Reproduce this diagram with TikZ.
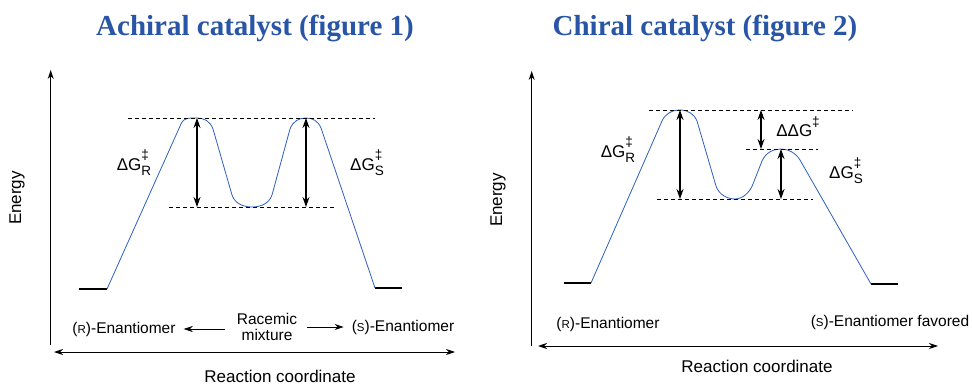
\documentclass[tikz,border=0pt]{standalone}
\usepackage{fontspec}
\setmainfont{Liberation Sans}
\newfontfamily\ttlfont{Liberation Serif}
\usetikzlibrary{arrows.meta}
\definecolor{ttlblue}{RGB}{40,85,165}
\definecolor{crvblue}{RGB}{45,95,190}
\newcommand{\sm}[1]{{\fontsize{11.5}{12}\selectfont #1}}
\newcommand{\smd}[1]{{\fontsize{13.5}{14}\selectfont #1}}
\newcommand{\dgs}[1]{ΔG\makebox[0pt][l]{\raisebox{0.6em}{\smd{‡}}}\raisebox{-0.34em}{\smd{#1}}}
\tikzset{
  titlelab/.style={font=\ttlfont\bfseries\fontsize{29}{32}\selectfont, text=ttlblue, inner sep=0pt},
  lab/.style={font=\fontsize{15.5}{16}\selectfont, inner sep=2pt},
  dglab/.style={font=\fontsize{17}{18}\selectfont, inner sep=1pt},
  axislab/.style={font=\fontsize{17}{18}\selectfont, inner sep=0pt},
  curve/.style={draw=crvblue, line width=0.8pt},
  ground/.style={line width=2.6pt},
  axis/.style={-{Stealth[length=9pt, width=6pt]}, line width=0.9pt},
  axis2/.style={{Stealth[length=9pt, width=6pt]}-{Stealth[length=9pt, width=6pt]}, line width=0.9pt},
  gap/.style={{Stealth[length=10pt, width=7pt]}-{Stealth[length=10pt, width=7pt]}, line width=1.1pt},
  dline/.style={dash pattern=on 4pt off 3pt, line width=0.6pt},
  mix/.style={-{Stealth[length=9pt, width=6pt]}, line width=0.7pt},
}
\begin{document}
\begin{tikzpicture}[x=1pt, y=-1pt]
  \useasboundingbox (0,0) rectangle (972,385);
  % titles
  \node[titlelab] (titleA) at (255,28) {Achiral catalyst (figure 1)};
  \node[titlelab] (titleB) at (705,28) {Chiral catalyst (figure 2)};

  % ---- figure 1 ----
  \coordinate (yA0) at (50.7,345); \coordinate (yA1) at (50.7,70);
  \coordinate (xA0) at (54,352); \coordinate (xA1) at (455,352);
  \draw[axis] (yA0) -- (yA1);
  \draw[axis2] (xA0) -- (xA1);
  \node[axislab, rotate=90] (energyA) at (17,198) {Energy};
  \node[axislab] (rcA) at (280,376) {Reaction coordinate};
  \coordinate (pRA) at (197,118); \coordinate (pSA) at (306,118);
  \coordinate (vA) at (252,207);
  \draw[ground] (79,289) -- (107,289);
  \draw[ground] (375,288) -- (402,288);
  \draw[curve] (107,289) -- (181,124) .. controls (184,117) and (190,118) .. (pRA)
    .. controls (204,118) and (210,121) .. (213,129) -- (232,195)
    .. controls (235,204) and (244,207) .. (vA)
    .. controls (260,207) and (269,204) .. (272,195) -- (290,129)
    .. controls (293,121) and (299,118) .. (pSA)
    .. controls (313,118) and (318,121) .. (321,128) -- (375,288);
  \draw[dline] (128,118) -- (375,118);
  \draw[dline] (169,207) -- (334,207);
  \draw[gap] (pRA) -- (pRA |- vA);
  \draw[gap] (pSA) -- (pSA |- vA);
  \node[dglab] (dgRA) at (134,163) {\dgs{R}};
  \node[dglab] (dgSA) at (367,163) {\dgs{S}};
  \node[lab] (enRA) at (124,329) {(\sm{R})-Enantiomer};
  \node[lab, align=center] (racA) at (267,327) {Racemic\\mixture};
  \node[lab] (enSA) at (403,327) {(\sm{S})-Enantiomer};
  \draw[mix, shorten <=10pt, shorten >=6pt] (racA.west |- enRA) -- (enRA.east);
  \draw[mix, shorten <=8pt, shorten >=6pt] (racA.east |- enSA) -- (enSA.west);

  % ---- figure 2 ----
  \coordinate (yB0) at (531.7,346); \coordinate (yB1) at (531.7,71);
  \coordinate (xB0) at (538,346); \coordinate (xB1) at (938,346);
  \draw[axis] (yB0) -- (yB1);
  \draw[axis2] (xB0) -- (xB1);
  \node[axislab, rotate=90] (energyB) at (498,200) {Energy};
  \node[axislab] (rcB) at (757,366) {Reaction coordinate};
  \coordinate (pRB) at (680,110); \coordinate (pSB) at (781,149);
  \coordinate (vB) at (735,199);
  \draw[ground] (564,283) -- (591,283);
  \draw[ground] (871,284) -- (898,284);
  \draw[curve] (591,283) -- (662,121) .. controls (665,114) and (672,110) .. (pRB)
    .. controls (688,110) and (694,114) .. (697,121) -- (716,186)
    .. controls (719,195) and (728,199) .. (vB)
    .. controls (743,199) and (750,192) .. (753,184) -- (762,161)
    .. controls (766,152) and (774,149) .. (pSB)
    .. controls (788,149) and (796,153) .. (800,160) -- (871,284);
  \draw[dline] (649,110) -- (853,110);
  \draw[dline] (746,149) -- (818,149);
  \draw[dline] (657,199) -- (813,199);
  \draw[gap] (pRB) -- (pRB |- vB);
  \draw[gap] (pSB) -- (pSB |- vB);
  \coordinate (ddgB) at (761,110);
  \draw[gap] (ddgB) -- (ddgB |- pSB);
  \node[dglab] (dgRB) at (618,150) {\dgs{R}};
  \node[dglab] (dgSB) at (846,171) {\dgs{S}};
  \node[dglab] (ddgLab) at (798,127) {ΔΔG\raisebox{0.6em}{\smd{‡}}};
  \node[lab] (enRB) at (608,324) {(\sm{R})-Enantiomer};
  \node[lab] (enSB) at (890,322) {(\sm{S})-Enantiomer favored};
\end{tikzpicture}
\end{document}
